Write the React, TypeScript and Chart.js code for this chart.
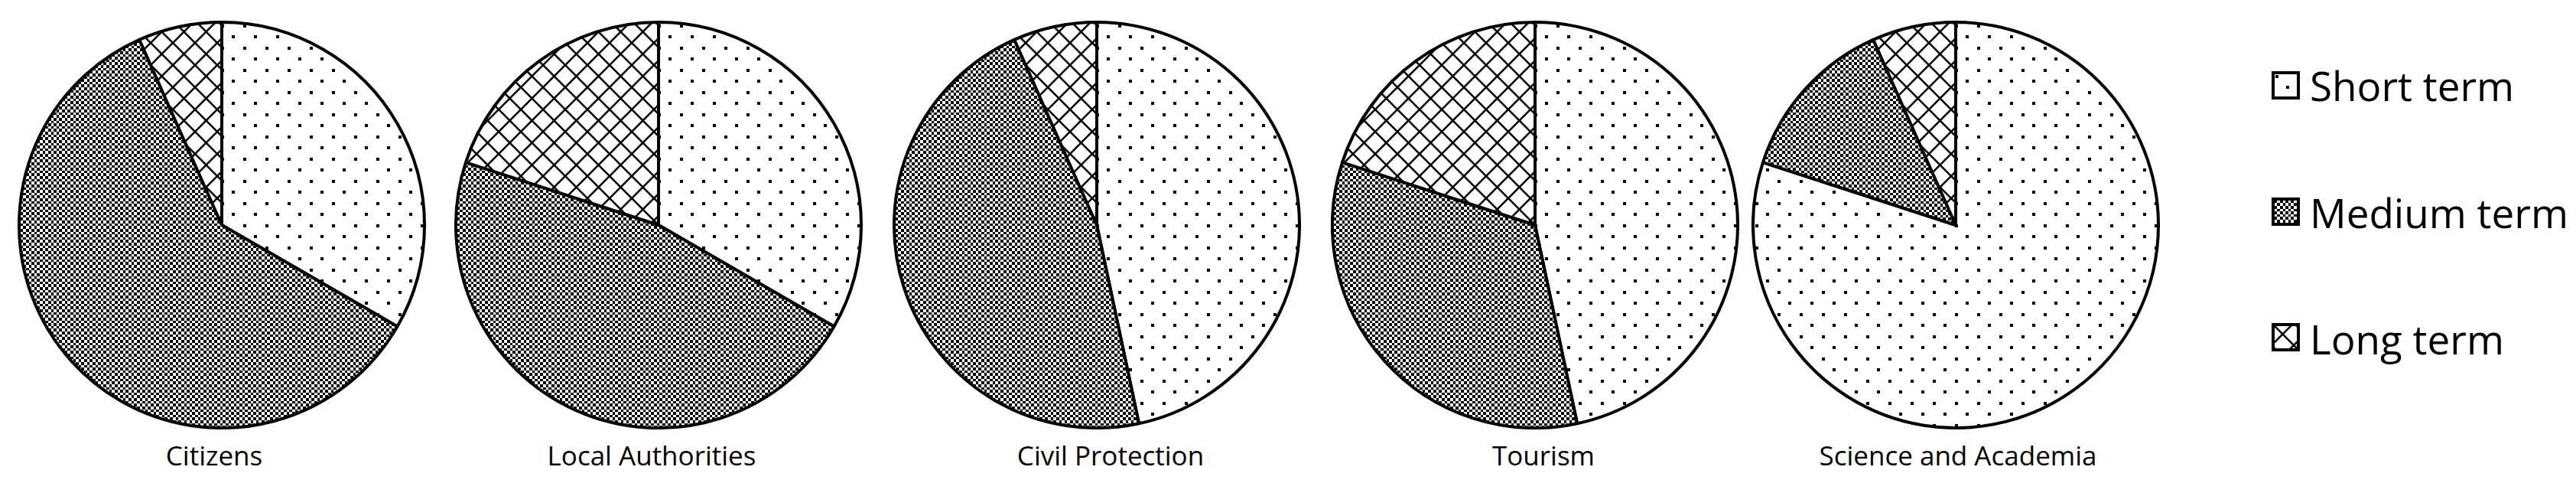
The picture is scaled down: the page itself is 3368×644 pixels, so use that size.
import React, { useEffect, useRef } from "react";
import { Chart, registerables } from "chart.js";

Chart.register(...registerables);

// ---- data ----
const groups = ["Citizens", "Local Authorities", "Civil Protection", "Tourism", "Science and Academia"];
const seriesNames = ["Short term", "Medium term", "Long term"];
const shortTerm = [5, 5, 7, 7, 12];
const mediumTerm = [9, 7, 7, 5, 2];
const longTerm = [1, 3, 1, 3, 1];

// ---- layout ----
const PIE_CX = [290, 861, 1434, 2007, 2557];
const LABEL_CX = [280, 852, 1452, 2018, 2560];
const PIE_CY = 294;
const PIE_BOX = 534;
const LEGEND_BOX_TOP = [93, 258, 422];
const LEGEND_TEXT_TOP = [75, 241, 406];

const TILE = 29;

function makePattern(kind: number): CanvasPattern {
  const c = document.createElement("canvas");
  c.width = TILE;
  c.height = TILE;
  const g = c.getContext("2d")!;
  g.fillStyle = "#fff";
  g.fillRect(0, 0, TILE, TILE);
  g.fillStyle = "#000";
  g.strokeStyle = "#000";
  if (kind === 0) {
    g.fillRect(5, 5, 4, 4);
    g.fillRect(19, 19, 4, 4);
  } else if (kind === 1) {
    const n = 8;
    for (let i = 0; i < n; i++) {
      for (let j = 0; j < n; j++) {
        if ((i + j) % 2 === 0) {
          const x0 = Math.round((i * TILE) / n);
          const x1 = Math.round(((i + 1) * TILE) / n);
          const y0 = Math.round((j * TILE) / n);
          const y1 = Math.round(((j + 1) * TILE) / n);
          g.fillRect(x0, y0, x1 - x0, y1 - y0);
        }
      }
    }
  } else {
    g.lineWidth = 2.6;
    for (const o of [-TILE, 0, TILE]) {
      g.beginPath();
      g.moveTo(o, 0);
      g.lineTo(o + TILE, TILE);
      g.stroke();
      g.beginPath();
      g.moveTo(o + TILE, 0);
      g.lineTo(o, TILE);
      g.stroke();
    }
  }
  return g.createPattern(c, "repeat")!;
}

function PieChart({ idx }: { idx: number }) {
  const ref = useRef<HTMLCanvasElement | null>(null);
  useEffect(() => {
    if (!ref.current) return;
    const patterns = [makePattern(0), makePattern(1), makePattern(2)];
    const chart = new Chart(ref.current, {
      type: "pie",
      data: {
        labels: seriesNames,
        datasets: [
          {
            data: [shortTerm[idx], mediumTerm[idx], longTerm[idx]],
            backgroundColor: patterns,
            borderColor: "#000",
            borderWidth: 4,
          },
        ],
      },
      options: {
        responsive: false,
        animation: false,
        layout: { padding: 0 },
        plugins: {
          legend: { display: false },
          tooltip: { enabled: false },
        },
      },
    });
    return () => chart.destroy();
  }, [idx]);
  return (
    <canvas
      ref={ref}
      width={PIE_BOX}
      height={PIE_BOX}
      style={{
        position: "absolute",
        left: PIE_CX[idx] - PIE_BOX / 2,
        top: PIE_CY - PIE_BOX / 2,
        width: PIE_BOX,
        height: PIE_BOX,
      }}
    />
  );
}

function Swatch({ kind }: { kind: number }) {
  const ref = useRef<HTMLCanvasElement | null>(null);
  useEffect(() => {
    const c = ref.current;
    if (!c) return;
    const g = c.getContext("2d")!;
    g.clearRect(0, 0, 37, 37);
    g.fillStyle = makePattern(kind);
    g.fillRect(0, 0, 37, 37);
    g.strokeStyle = "#000";
    g.lineWidth = 4;
    g.strokeRect(2, 2, 33, 33);
  }, [kind]);
  return (
    <canvas
      ref={ref}
      width={37}
      height={37}
      style={{ position: "absolute", left: 2970, top: LEGEND_BOX_TOP[kind], width: 37, height: 37 }}
    />
  );
}

export default function App() {
  useEffect(() => {
    document.body.style.margin = "0";
    document.body.style.background = "#fff";
  }, []);
  return (
    <div
      style={{
        position: "absolute",
        left: 0,
        top: 0,
        width: 3368,
        height: 644,
        background: "#fff",
        overflow: "hidden",
        fontFamily: "'Open Sans', sans-serif",
        color: "#000",
      }}
    >
      {groups.map((g, i) => (
        <PieChart key={g} idx={i} />
      ))}
      {groups.map((g, i) => (
        <div
          key={"l" + g}
          style={{
            position: "absolute",
            left: LABEL_CX[i] - 300,
            width: 600,
            top: 571,
            textAlign: "center",
            fontSize: 35,
            lineHeight: "normal",
            whiteSpace: "nowrap",
          }}
        >
          {g}
        </div>
      ))}
      {seriesNames.map((s, i) => (
        <React.Fragment key={s}>
          <Swatch kind={i} />
          <div
            style={{
              position: "absolute",
              left: 3020,
              top: LEGEND_TEXT_TOP[i],
              fontSize: 53,
              lineHeight: "normal",
              whiteSpace: "nowrap",
            }}
          >
            {s}
          </div>
        </React.Fragment>
      ))}
    </div>
  );
}
